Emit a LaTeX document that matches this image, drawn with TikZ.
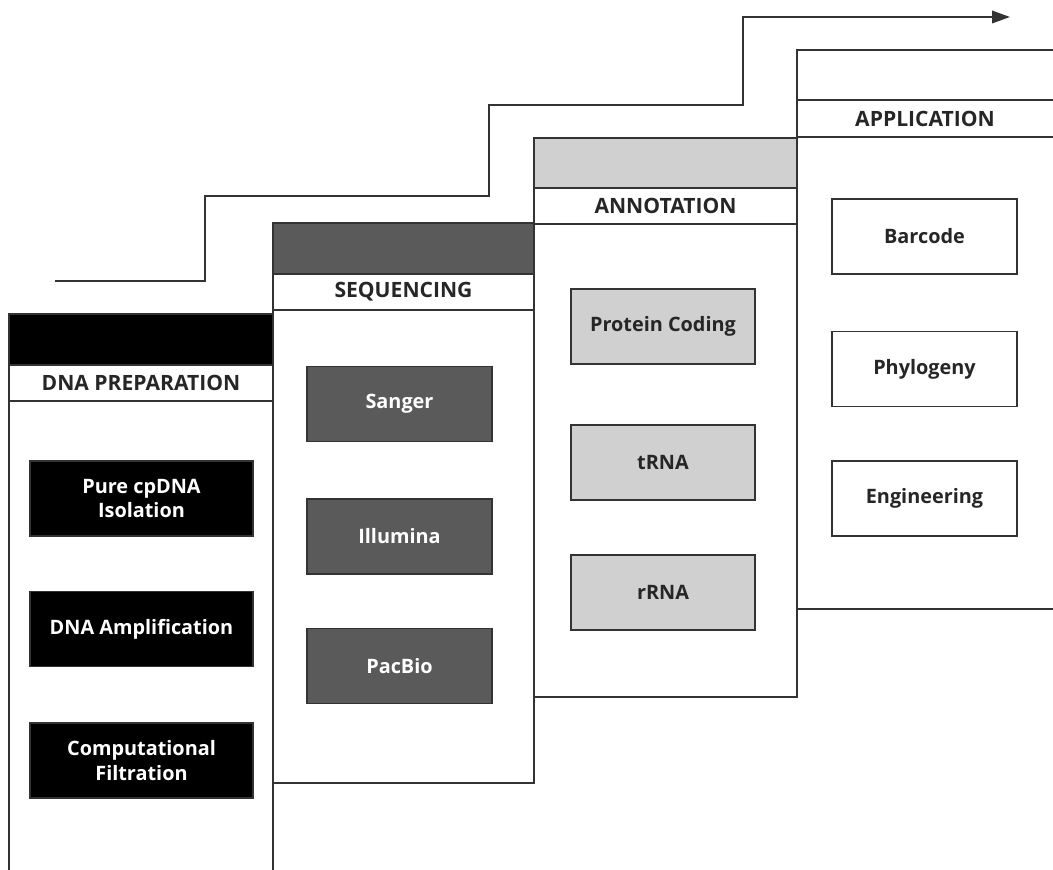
\documentclass[tikz,border=0pt]{standalone}
\usepackage{fontspec}
\setmainfont{Open Sans}
\usetikzlibrary{arrows.meta}

\definecolor{linegrey}{HTML}{333333}
\definecolor{seqgrey}{HTML}{5A5A5A}
\definecolor{anngrey}{HTML}{D0D0D0}

\tikzset{
  frame/.style={draw=linegrey, line width=1.1pt},
  stagetitle/.style={font=\fontsize{12}{14}\selectfont\bfseries, text=black!85},
  stagebox/.style={draw=linegrey, line width=1.1pt, minimum height=1.5cm, inner sep=2pt,
    align=center, font=\fontsize{11.3}{14.2}\selectfont\bfseries},
}

\begin{document}
\begin{tikzpicture}
    \useasboundingbox (0,0) rectangle (21.06,17.4);

    % Step arrow
    \coordinate (s0) at (1.1,11.78);
    \coordinate (s1) at (4.10,13.48);
    \coordinate (s2) at (9.78,15.30);
    \coordinate (s3) at (14.86,17.06);
    \coordinate (s4) at (20.2,17.06);
    \draw[frame, -{Triangle[length=0.36cm,width=0.25cm]}] (s0) -| (s1) -| (s2) -| (s3) -- (s4);

    % DNA preparation
    \fill[black] (0.18,10.10) rectangle (5.46,11.12);
    \draw[frame] (0.18,0) -- (0.18,11.12) -- (5.46,11.12) -- (5.46,0);
    \draw[frame] (0.18,10.10) -- (5.46,10.10);
    \draw[frame] (0.18,9.38) -- (5.46,9.38);
    \node[stagetitle] (prep) at (2.82,9.74) {DNA PREPARATION};

    % Sequencing
    \draw[frame, fill=seqgrey] (5.46,11.92) rectangle (10.68,12.94);
    \draw[frame] (5.46,12.94) rectangle (10.68,1.74);
    \draw[frame] (5.46,11.2) -- (10.68,11.2);
    \node[stagetitle] (seq) at (8.07,11.56) {SEQUENCING};

    % Annotation
    \draw[frame, fill=anngrey] (10.68,13.64) rectangle (15.94,14.64);
    \draw[frame] (10.68,14.64) rectangle (15.94,3.46);
    \draw[frame] (10.68,12.92) -- (15.94,12.92);
    \node[stagetitle] (ann) at (13.31,13.28) {ANNOTATION};

    % Application
    \draw[frame] (21.06,16.4) -- (15.94,16.4) -- (15.94,5.22) -- (21.06,5.22);
    \draw[frame] (15.94,15.4) -- (21.06,15.4);
    \draw[frame] (15.94,14.66) -- (21.06,14.66);
    \node[stagetitle] (app) at (18.5,15.03) {APPLICATION};

    % Boxes of each stage
    \node[stagebox, fill=black, text=white, minimum width=4.46cm] (iso) at (2.83,7.43) {Pure cpDNA\\Isolation};
    \node[stagebox, fill=black, text=white, minimum width=4.46cm] (amp) at (2.83,4.82) {DNA Amplification};
    \node[stagebox, fill=black, text=white, minimum width=4.46cm] (filt) at (2.83,2.19) {Computational\\Filtration};

    \node[stagebox, fill=seqgrey, text=white, minimum width=3.7cm] (sanger) at (7.99,9.32) {Sanger};
    \node[stagebox, fill=seqgrey, text=white, minimum width=3.7cm] (illumina) at (7.99,6.67) {Illumina};
    \node[stagebox, fill=seqgrey, text=white, minimum width=3.7cm] (pacbio) at (7.99,4.08) {PacBio};

    \node[stagebox, fill=anngrey, text=black!85, minimum width=3.68cm] (protein) at (13.26,10.87) {Protein Coding};
    \node[stagebox, fill=anngrey, text=black!85, minimum width=3.68cm] (trna) at (13.26,8.15) {tRNA};
    \node[stagebox, fill=anngrey, text=black!85, minimum width=3.68cm] (rrna) at (13.26,5.55) {rRNA};

    \node[stagebox, fill=white, text=black!85, minimum width=3.7cm] (barcode) at (18.49,12.67) {Barcode};
    \node[stagebox, fill=white, text=black!85, minimum width=3.7cm] (phylo) at (18.49,10.02) {Phylogeny};
    \node[stagebox, fill=white, text=black!85, minimum width=3.7cm] (eng) at (18.49,7.43) {Engineering};
\end{tikzpicture}
\end{document}
